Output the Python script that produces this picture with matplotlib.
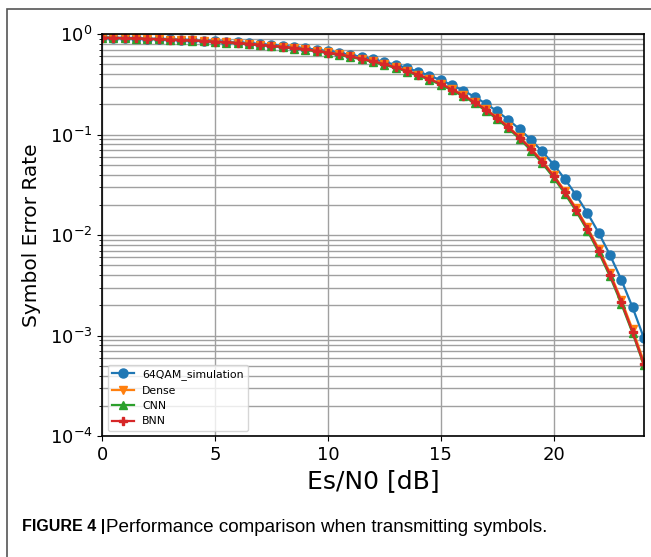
import matplotlib
matplotlib.use('Agg')
import matplotlib.pyplot as plt
from matplotlib.patches import Rectangle

# Es/N0 sweep (dB)
esn0 = [i * 0.5 for i in range(49)]

ser_sim = [
    0.9237, 0.9188, 0.9135, 0.9075, 0.9011, 0.8942, 0.8866, 0.8782, 0.8692, 0.8593,
    0.8484, 0.8367, 0.8239, 0.8100, 0.7948, 0.7783, 0.7605, 0.7412, 0.7205, 0.6980,
    0.6738, 0.6480, 0.6205, 0.5912, 0.5603, 0.5277, 0.4936, 0.4585, 0.4220, 0.3850,
    0.3477, 0.3101, 0.2733, 0.2371, 0.2027, 0.1702, 0.1400, 0.1128, 0.0886, 0.0678,
    0.0503, 0.0361, 0.0249, 0.01655, 0.01051, 0.00633, 0.00360, 0.00191, 0.00095,
]
ser_dense = [
    0.9205, 0.9152, 0.9093, 0.9030, 0.8962, 0.8888, 0.8806, 0.8718, 0.8621, 0.8514,
    0.8399, 0.8274, 0.8138, 0.7989, 0.7828, 0.7654, 0.7465, 0.7261, 0.7041, 0.6803,
    0.6550, 0.6279, 0.5991, 0.5686, 0.5364, 0.5027, 0.4679, 0.4318, 0.3950, 0.3578,
    0.3203, 0.2830, 0.2465, 0.2116, 0.1785, 0.1476, 0.1195, 0.0945, 0.0728, 0.0545,
    0.0395, 0.0275, 0.01850, 0.01190, 0.00728, 0.00420, 0.00227, 0.00115, 0.00055,
]
ser_cnn = [
    0.9150, 0.9100, 0.9040, 0.8975, 0.8905, 0.8830, 0.8745, 0.8655, 0.8555, 0.8445,
    0.8325, 0.8195, 0.8055, 0.7905, 0.7740, 0.7565, 0.7375, 0.7170, 0.6950, 0.6710,
    0.6455, 0.6185, 0.5895, 0.5590, 0.5270, 0.4935, 0.4590, 0.4230, 0.3865, 0.3495,
    0.3125, 0.2755, 0.2395, 0.2050, 0.1725, 0.1420, 0.1148, 0.0905, 0.0693, 0.0517,
    0.0373, 0.0258, 0.0173, 0.01105, 0.00672, 0.00388, 0.00208, 0.00106, 0.00051,
]
ser_bnn = [
    0.9198, 0.9146, 0.9087, 0.9024, 0.8956, 0.8881, 0.8799, 0.8710, 0.8613, 0.8506,
    0.8390, 0.8265, 0.8128, 0.7978, 0.7816, 0.7641, 0.7451, 0.7246, 0.7025, 0.6786,
    0.6532, 0.6260, 0.5971, 0.5665, 0.5342, 0.5004, 0.4655, 0.4293, 0.3924, 0.3552,
    0.3176, 0.2803, 0.2439, 0.2092, 0.1763, 0.1456, 0.1178, 0.0930, 0.0715, 0.0534,
    0.0386, 0.0268, 0.01795, 0.01151, 0.00701, 0.00403, 0.00217, 0.00109, 0.00052,
]

fig = plt.figure(figsize=(6.51, 5.57), dpi=100)
ax = fig.add_axes([0.157, 0.217, 0.832, 0.722])

ax.semilogy(esn0, ser_sim, marker='o', ms=6.5, lw=1.6, color='#1f77b4', label='64QAM_simulation')
ax.semilogy(esn0, ser_dense, marker='v', ms=5.5, lw=1.6, color='#ff7f0e', label='Dense')
ax.semilogy(esn0, ser_cnn, marker='^', ms=5.5, lw=1.6, color='#2ca02c', label='CNN')
ax.semilogy(esn0, ser_bnn, marker='P', ms=6, lw=1.6, color='#d62728', label='BNN')

ax.set_xlim(0, 24)
ax.set_ylim(1e-4, 1)
ax.set_xticks([0, 5, 10, 15, 20])
ax.grid(True, which='both', color='#a0a0a0', lw=1.0)
ax.tick_params(labelsize=13)
for s in ax.spines.values():
    s.set_linewidth(1.2)
ax.set_xlabel('Es/N0 [dB]', fontsize=18)
ax.set_ylabel('Symbol Error Rate', fontsize=14.5, labelpad=6)
ax.legend(loc='lower left', fontsize=7.8)

# outer frame of the figure panel
fig.patches.append(Rectangle((7 / 651, -0.1), 1.2, 1.1 - 9 / 557, transform=fig.transFigure,
                             fill=False, edgecolor='#555555', lw=1.2))

fig.text(22 / 651, 1 - 527 / 557, 'FIGURE 4 |', fontsize=11.5, fontweight='bold',
         family='Liberation Sans', va='center')
fig.text(106 / 651, 1 - 527 / 557, 'Performance comparison when transmitting symbols.',
         fontsize=13.6, family='Liberation Sans', va='center')

fig.savefig('out.png', dpi=100)
